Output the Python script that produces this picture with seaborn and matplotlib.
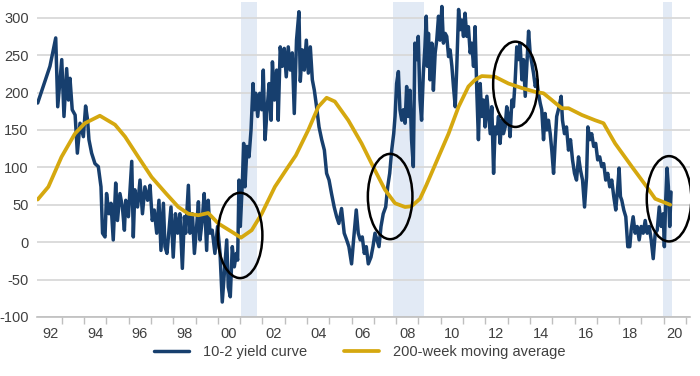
import matplotlib
matplotlib.use("Agg")
import matplotlib.pyplot as plt
from matplotlib.patches import Ellipse
import seaborn as sns

# 10-2 yield curve (bp)
yc_year = [1991.92, 1992.47, 1992.73, 1992.82, 1993.00, 1993.10, 1993.22, 1993.30, 1993.37, 1993.47,
           1993.60, 1993.70, 1993.82, 1993.97, 1994.07, 1994.16, 1994.22, 1994.34, 1994.49, 1994.64,
           1994.76, 1994.83, 1994.94, 1995.01, 1995.12, 1995.21, 1995.31, 1995.42, 1995.50, 1995.61,
           1995.72, 1995.81, 1995.87, 1995.99, 1996.14, 1996.21, 1996.28, 1996.40, 1996.51, 1996.62,
           1996.73, 1996.85, 1996.96, 1997.06, 1997.15, 1997.26, 1997.36, 1997.45, 1997.56, 1997.63,
           1997.72,
           1997.90, 1998.00, 1998.10, 1998.20, 1998.30, 1998.41, 1998.50, 1998.56, 1998.68, 1998.75,
           1998.86, 1998.95, 1999.05, 1999.13, 1999.20, 1999.30, 1999.39, 1999.50, 1999.57, 1999.65,
           1999.75, 1999.87, 1999.99, 2000.10, 2000.20, 2000.29, 2000.40, 2000.47, 2000.56, 2000.65,
           2000.74, 2000.83, 2000.89, 2000.95, 2001.01, 2001.10, 2001.16, 2001.22, 2001.31, 2001.40,
           2001.49, 2001.58, 2001.64, 2001.70, 2001.79, 2001.88, 2001.97, 2002.04, 2002.12, 2002.21,
           2002.30, 2002.39, 2002.45, 2002.54, 2002.64, 2002.71, 2002.80, 2002.89, 2002.98, 2003.07,
           2003.16, 2003.25, 2003.34, 2003.43,
           2003.53, 2003.64, 2003.70, 2003.79, 2003.88, 2003.97, 2004.06, 2004.15, 2004.24, 2004.33,
           2004.43, 2004.54, 2004.66, 2004.78, 2004.88, 2004.99, 2005.10, 2005.22, 2005.33, 2005.43,
           2005.55, 2005.67, 2005.78, 2005.88, 2006.00, 2006.09, 2006.21, 2006.30, 2006.39, 2006.48,
           2006.57, 2006.66, 2006.75, 2006.87, 2006.96, 2007.05, 2007.14, 2007.23, 2007.32, 2007.42,
           2007.53, 2007.62, 2007.71, 2007.80, 2007.89, 2007.95, 2008.02, 2008.10, 2008.17, 2008.25,
           2008.32, 2008.40, 2008.47, 2008.54, 2008.62, 2008.69, 2008.77, 2008.84, 2008.92, 2008.99,
           2009.07, 2009.14, 2009.22, 2009.29, 2009.35,
           2009.40, 2009.45, 2009.52, 2009.60, 2009.67, 2009.75, 2009.82, 2009.90, 2009.97, 2010.05,
           2010.12, 2010.20, 2010.27, 2010.35, 2010.42, 2010.50, 2010.57, 2010.65, 2010.72, 2010.80,
           2010.87, 2010.94, 2011.02, 2011.09, 2011.17, 2011.24, 2011.32, 2011.39, 2011.47, 2011.54,
           2011.62, 2011.69, 2011.77, 2011.84, 2011.92, 2011.99, 2012.07, 2012.14, 2012.22, 2012.29,
           2012.37, 2012.44, 2012.52, 2012.59, 2012.66, 2012.74, 2012.81, 2012.89, 2012.96, 2013.04,
           2013.11, 2013.19, 2013.26, 2013.34, 2013.41, 2013.49, 2013.56, 2013.64, 2013.71, 2013.79,
           2013.86, 2013.94, 2014.01, 2014.09, 2014.16, 2014.24, 2014.31, 2014.38, 2014.46, 2014.53,
           2014.61, 2014.68, 2014.76, 2014.83, 2014.91, 2014.98, 2015.06,
           2015.13, 2015.20, 2015.31, 2015.40, 2015.46, 2015.55, 2015.64, 2015.73, 2015.82, 2015.91,
           2016.00, 2016.09, 2016.18, 2016.27, 2016.36, 2016.45, 2016.54, 2016.60, 2016.69, 2016.77,
           2016.86, 2016.95, 2017.04, 2017.13, 2017.22, 2017.31, 2017.40, 2017.49, 2017.58, 2017.67,
           2017.76, 2017.85, 2017.94, 2018.00, 2018.06, 2018.12, 2018.21, 2018.30, 2018.39, 2018.48,
           2018.54, 2018.63, 2018.72, 2018.81, 2018.90, 2018.99, 2019.08, 2019.17, 2019.26, 2019.35,
           2019.44, 2019.53, 2019.62, 2019.71, 2019.80, 2019.89, 2019.98, 2020.03, 2020.09, 2020.15,
           2020.21, 2020.27, 2020.33]
yc_value = [186, 235, 273, 181, 244, 168, 232, 190, 219, 177,
            170, 119, 159, 141, 182, 163, 137, 119, 105, 101,
            74, 12, 7, 65, 38, 52, 3, 79, 29, 65,
            47, 16, 56, 34, 108, 7, 70, 47, 83, 38,
            74, 56, 76, 29, 43, 12, 56, -11, 52, -6,
            -15,
            47, -20, 38, 12, 38, -35, 34, 12, 76, 12,
            38, -15, 21, 54, 3, 29, 65, -11, 56, 12,
            16, -15, 21, -15, -80, -42, 3, -60, -73, -6,
            -33, -15, -24, 83, 21, 79, 132, 74, 128, 114,
            150, 212, 177, 199, 168, 199, 177, 230, 137, 177,
            212, 163, 241, 190, 230, 163, 261, 235, 259, 221,
            261, 230, 253, 172,
            270, 308, 215, 257, 230, 270, 226, 261, 217, 203,
            181, 154, 137, 123, 92, 83, 65, 47, 34, 25,
            45, 12, 3, -6, -29, 3, 43, 12, 3, 7,
            -15, -6, -29, -20, -6, 12, 3, -6, 21, 38,
            47, 74, 92, 123, 145, 168, 212, 228, 177, 163,
            177, 159, 208, 168, 203, 137, 101, 266, 244, 275,
            190, 163, 226, 261, 302,
            235, 279, 217, 266, 203, 253, 270, 302, 270, 315,
            266, 279, 275, 248, 257, 235, 208, 181, 235, 311,
            284, 297, 275, 306, 275, 288, 253, 266, 235, 288,
            199, 137, 212, 168, 190, 154, 195, 172, 145, 181,
            92, 154, 145, 168, 132, 163, 145, 154, 181, 168,
            141, 190, 181, 217, 261, 244, 266, 217, 244, 195,
            235, 282, 253, 239, 226, 208, 217, 199, 186, 177,
            137, 172, 150, 163, 145, 123, 92,
            132, 168, 181, 195, 163, 145, 154, 123, 137, 110,
            92, 83, 114, 96, 83, 47, 87, 154, 137, 145,
            128, 132, 110, 114, 101, 105, 83, 92, 74, 83,
            61, 43, 74, 99, 61, 56, 43, 34, -6, -6,
            16, 34, 12, 21, 3, 21, 12, 29, 12, 21,
            3, -22, 12, 16, 47, 21, 38, -6, 56, 99,
            74, 21, 67]

# 200-week moving average
ma_year = [1991.92, 1992.40, 1992.99, 1993.59, 1994.04, 1994.71, 1995.39, 1995.84, 1996.43, 1997.03,
           1997.68, 1998.23, 1998.68, 1999.13, 1999.57, 2000.02, 2000.62, 2001.04, 2001.52, 2001.97,
           2002.56, 2003.16, 2003.50, 2004.06, 2004.51, 2004.88, 2005.25, 2005.85, 2006.45, 2007.05,
           2007.50, 2007.95, 2008.40, 2008.69, 2009.07, 2009.35, 2009.90, 2010.35, 2010.80, 2011.24,
           2011.54, 2011.84, 2012.44, 2013.04, 2013.64, 2014.23, 2014.61, 2014.98, 2015.18, 2015.43,
           2015.73, 2016.33, 2016.92, 2017.30, 2017.82, 2018.57, 2019.24, 2019.62, 2020.29]
ma_value = [57, 74, 114, 145, 159, 169, 157, 141, 114, 87,
            65, 47, 38, 36, 39, 25, 14, 6, 16, 38,
            74, 101, 116, 150, 181, 193, 188, 163, 132, 96,
            70, 52, 47, 48, 58, 76, 114, 145, 181, 208,
            217, 222, 221, 212, 206, 201, 199, 190, 185, 179,
            179, 170, 163, 159, 132, 101, 74, 58, 50]

# recessions (shaded) and highlighted crossings (circled)
recessions = [(2001.04, 2001.76), (2007.86, 2009.25), (2019.97, 2020.37)]
circles = [(2001.0, 9), (2007.73, 61), (2013.35, 211), (2020.24, 58)]

sns.set_theme(style="white")
plt.rcParams['font.family'] = ['Liberation Sans', 'DejaVu Sans']
plt.rcParams['axes.unicode_minus'] = False

fig = plt.figure(figsize=(7, 3.76), dpi=100)
ax = fig.add_axes([37/700, 1-317/376, 653/700, 315/376])

for s, e in recessions:
    ax.axvspan(s, e, color='#e2eaf5', lw=0, zorder=0)

sns.lineplot(x=yc_year, y=yc_value, ax=ax, color='#173f6e', lw=2.5,
             label='10-2 yield curve', sort=False, estimator=None)
sns.lineplot(x=ma_year, y=ma_value, ax=ax, color='#d5a80f', lw=2.7,
             label='200-week moving average', sort=False, estimator=None)

for cx, cy in circles:
    ax.add_patch(Ellipse((cx, cy), 2.0, 114, fill=False, ec='black', lw=1.8, zorder=5))

ax.set_xlim(1991.89, 2021.18)
ax.set_ylim(-100, 321)
ax.set_yticks(range(-100, 301, 50))
ax.grid(axis='y', color='#d9d9d9', lw=1.3)
ax.set_axisbelow(True)
for sp in ['left', 'right', 'top']:
    ax.spines[sp].set_visible(False)
ax.spines['bottom'].set_color('#bfbfbf')
ax.spines['bottom'].set_linewidth(1.2)

ax.set_xticks(range(1993, 2022))
ax.set_xticklabels([])
ax.set_xticks([y + 0.5 for y in range(1992, 2021, 2)], minor=True)
ax.set_xticklabels(['%02d' % (y % 100) for y in range(1992, 2021, 2)], minor=True)
ax.tick_params(axis='x', which='major', length=5, width=1, color='#bfbfbf', direction='out', bottom=True)
ax.tick_params(axis='x', which='minor', length=0, pad=7, labelsize=10.5, labelcolor='#404040')
ax.tick_params(axis='y', length=0, pad=6, labelsize=10.5, labelcolor='#404040')
ax.set_xlabel('')
ax.set_ylabel('')

handles, labels = ax.get_legend_handles_labels()
ax.get_legend().remove()
fig.legend(handles, labels, loc='center', bbox_to_anchor=(0.514, 0.064), ncol=2, frameon=False,
           handlelength=2.4, handletextpad=1.0, columnspacing=2.5, fontsize=10.5,
           labelcolor='#404040')

fig.savefig('out.png', dpi=100)
